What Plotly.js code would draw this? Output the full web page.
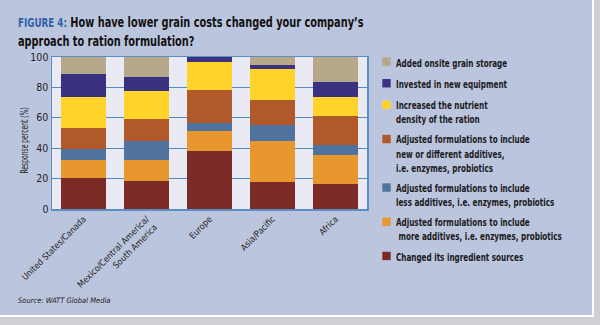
<!DOCTYPE html>
<html>
<head>
<meta charset="utf-8">
<script src="https://cdn.plot.ly/plotly-3.0.1.min.js"></script>
<style>
html,body{margin:0;padding:0;background:#cfd0d4;width:600px;height:325px;overflow:hidden;}
#wrap{position:absolute;left:0;top:0;width:592px;height:315px;background:#bcc5de;border-right:2px solid #fff;border-bottom:2px solid #fff;overflow:hidden;}
#chart{width:720px;height:315px;}
#chart text{font-stretch:condensed;}
#chart .legendtext{transform-box:fill-box;transform-origin:left center;transform:scaleX(0.73);}
#chart .gtitle{transform-box:fill-box;transform-origin:left center;transform:scaleX(0.75);}
#chart .ytitle{transform-box:fill-box;transform-origin:center;transform:translate(5px,11px) rotate(-90deg) scaleX(0.64);}
#chart .legendpoints path{translate:16.5px 0;scale:0.7;transform-box:fill-box;transform-origin:center;}
</style>
</head>
<body>
<div id="wrap"><div id="chart"></div></div>
<script>
var categories = ["United States/Canada", "Mexico/Central America/<br>South America", "Europe", "Asia/Pacific", "Africa"];
var changedSources = [20.5, 18.5, 38, 18, 16.5];
var moreAdditives = [12, 13.5, 13, 26.5, 19];
var lessAdditives = [7, 12.5, 5.5, 10.5, 6.5];
var newAdditives = [14, 15, 22, 17, 19.5];
var nutrientDensity = [20.5, 18, 18.5, 20, 12.5];
var newEquipment = [14.5, 9.5, 3, 2.5, 9.5];
var grainStorage = [11.5, 13, 0, 5.5, 16.5];
var yTicks = [0, 20, 40, 60, 80, 100];

var series = [
  {name: "Changed its ingredient sources", y: changedSources, color: "#7b2b25"},
  {name: "Adjusted formulations to include<br> more additives, i.e. enzymes, probiotics", y: moreAdditives, color: "#e8972f"},
  {name: "Adjusted formulations to include<br>less additives, i.e. enzymes, probiotics", y: lessAdditives, color: "#50729e"},
  {name: "Adjusted formulations to include<br>new or different additives,<br>i.e. enzymes, probiotics", y: newAdditives, color: "#b0592a"},
  {name: "Increased the nutrient<br>density of the ration", y: nutrientDensity, color: "#fed42b"},
  {name: "Invested in new equipment", y: newEquipment, color: "#3a3180"},
  {name: "Added onsite grain storage", y: grainStorage, color: "#b6a88a"}
];

var font = "'DejaVu Sans Condensed', 'DejaVu Sans', sans-serif";
var W = 720, H = 315;

var traces = series.map(function(s, i){
  return {
    type: "bar", x: categories, y: s.y, name: s.name,
    legendgroup: "g" + i,
    legendrank: (series.length - i) * 10,
    marker: {color: s.color, line: {width: 0}},
    hoverinfo: "skip"
  };
});

var layout = {
  width: W, height: H,
  paper_bgcolor: "rgba(0,0,0,0)",
  plot_bgcolor: "#e9eaf4",
  margin: {l: 52, r: W - 367, t: 57, b: H - 209},
  barmode: "stack",
  bargap: 0.286,
  font: {family: font, color: "#1a1a1a"},
  title: {
    text: "<span style='color:#2f62ab;font-size:13px'>FIGURE 4:</span> How have lower grain costs changed your company’s<br>approach to ration formulation?",
    font: {family: font, size: 14.5, color: "#111", weight: "bold"},
    x: 18/W, xanchor: "left", xref: "container",
    y: 1 - 27.5/H, yanchor: "top", yref: "container"
  },
  xaxis: {
    tickangle: -45,
    tickfont: {family: font, size: 8.8, color: "#222"},
    showline: true, linecolor: "#5a8fc4", linewidth: 1.5, mirror: true,
    ticks: "", fixedrange: true
  },
  yaxis: {
    range: [0, 100],
    tickvals: yTicks,
    tickfont: {family: font, size: 10.5, color: "#222"},
    gridcolor: "#4f8ac3", gridwidth: 1.2,
    showline: true, linecolor: "#5a8fc4", linewidth: 1.5, mirror: true,
    zeroline: false, ticks: "", ticklen: 0,
    title: {text: "Response percent (%)", font: {family: font, size: 10.5, color: "#222"}, standoff: 8}
  },
  legend: {
    x: (356-52)/315, xanchor: "left",
    y: (209-48)/152, yanchor: "top",
    traceorder: "grouped",
    tracegroupgap: 2.6,
    valign: "top",
    maxheight: 300,
    font: {family: font, size: 11, color: "#1a1a1a", weight: "bold"},
    bgcolor: "rgba(0,0,0,0)"
  },
  annotations: [{
    text: "<i>Source: WATT Global Media</i>",
    xref: "paper", yref: "paper",
    x: -(52-16)/315, xanchor: "left",
    y: -(300-209)/152, yanchor: "middle",
    showarrow: false,
    font: {family: font, size: 7.5, color: "#222"}
  }]
};

Plotly.newPlot("chart", traces, layout, {displayModeBar: false, staticPlot: true});
</script>
</body>
</html>
